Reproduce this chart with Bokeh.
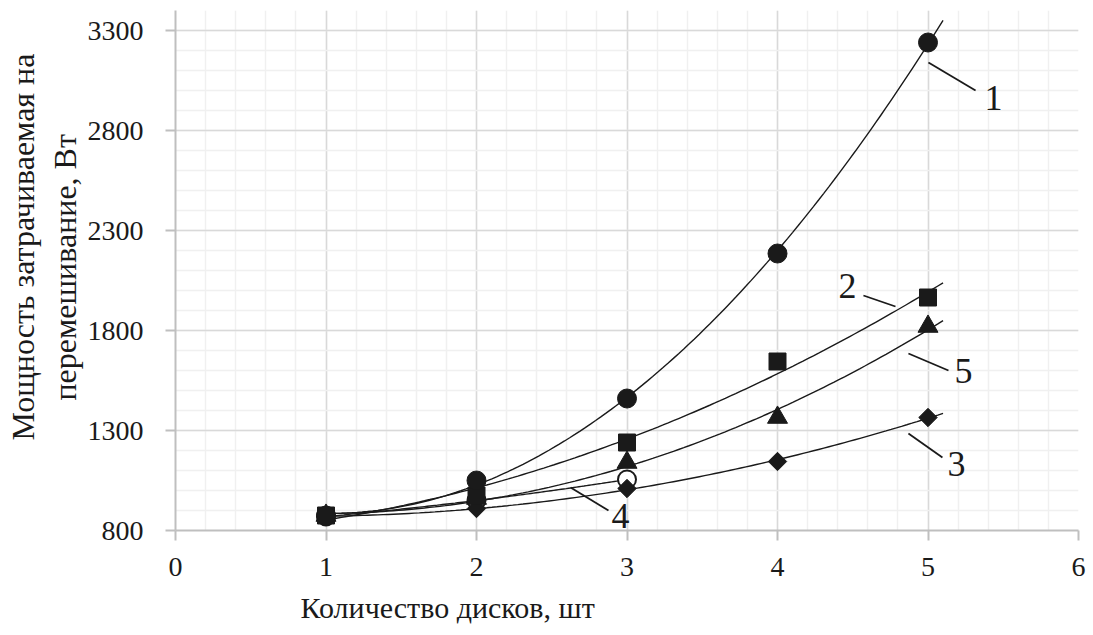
import numpy as np
from bokeh.plotting import figure
from bokeh.models import FixedTicker, Range1d, Title
from bokeh.embed import file_html
from bokeh.resources import INLINE
from bokeh.core.properties import value

# ---- data ----
disks = [1, 2, 3, 4, 5]
s1 = [875, 1050, 1460, 2185, 3240]   # circles
s2 = [875, 975, 1240, 1645, 1965]    # squares
s3 = [870, 910, 1010, 1145, 1365]    # diamonds
s5 = [875, 960, 1140, 1365, 1820]    # triangles
disks4 = [1, 2, 3]
s4 = [870, 950, 1055]                # open circles

x_ticks = [0, 1, 2, 3, 4, 5, 6]
y_ticks = [800, 1300, 1800, 2300, 2800, 3300]

label_text = ["1", "2", "3", "4", "5"]
label_x = [5.435, 4.465, 5.189, 2.957, 5.236]
label_y = [2965, 2025, 1135, 875, 1600]
leader_x0 = [5.003, 4.571, 4.870, 2.625, 4.870]
leader_y0 = [3140, 1975, 1285, 1015, 1685]
leader_x1 = [5.316, 4.784, 5.096, 2.877, 5.136]
leader_y1 = [3000, 1920, 1165, 900, 1600]

x_title = "Количество дисков, шт"
y_title1 = "Мощность затрачиваемая на"
y_title2 = "перемешивание, Вт"

FONT = "Liberation Serif"
INK = "#1a1a1a"

p = figure(width=1088, height=635, x_range=Range1d(0, 6), y_range=Range1d(800, 3400),
           output_backend="svg", toolbar_location=None,
           min_border_left=175, min_border_right=10, min_border_top=10, min_border_bottom=105)
p.outline_line_color = None

x_minor = [x_ticks[0] + i * 0.2 for i in range(int((x_ticks[-1] - x_ticks[0]) / 0.2) + 1)]
y_minor = list(range(y_ticks[0], 3401, 100))
p.xaxis.ticker = FixedTicker(ticks=x_ticks, minor_ticks=x_minor)
p.yaxis.ticker = FixedTicker(ticks=y_ticks, minor_ticks=y_minor)

p.grid.grid_line_color = "#d9d9d9"
p.grid.grid_line_width = 1.5
p.grid.minor_grid_line_color = "#f0f0f0"
p.grid.minor_grid_line_width = 1.5

p.axis.axis_line_color = "#bfbfbf"
p.axis.axis_line_width = 2
p.axis.major_tick_line_color = "#bfbfbf"
p.axis.major_tick_line_width = 2
p.axis.major_tick_out = 10
p.axis.major_tick_in = 0
p.axis.minor_tick_line_color = None
p.axis.major_label_text_font = FONT
p.axis.major_label_text_font_size = "28px"
p.axis.major_label_text_color = INK
p.xaxis.major_label_standoff = 17
p.yaxis.major_label_standoff = 22

# trendlines (2nd-order polynomial fits of the data)
def trend(xs, ys, xmax):
    c = np.polyfit(xs, ys, 2)
    xx = np.linspace(xs[0], xmax, 120)
    return xx, np.polyval(c, xx)

for xs, ys, xm in [(disks, s1, 5.1), (disks, s2, 5.1), (disks, s5, 5.1),
                   (disks, s3, 5.1), (disks4, s4, 3.0)]:
    xx, yy = trend(xs, ys, xm)
    p.line(xx, yy, line_color=INK, line_width=1.4)

# markers
p.scatter(disks4, s4, marker="circle", size=18, fill_color="white", line_color=INK, line_width=2)
p.scatter(disks, s3, marker="square", angle=np.pi / 4, size=13, fill_color=INK, line_color=INK)
p.scatter(disks, s5, marker="triangle", size=20, fill_color=INK, line_color=INK)
p.scatter(disks, s2, marker="square", size=17, fill_color=INK, line_color=INK)
p.scatter(disks, s1, marker="circle", size=19, fill_color=INK, line_color=INK)

# curve labels with leaders
p.segment(x0=leader_x0, y0=leader_y0, x1=leader_x1, y1=leader_y1, line_color=INK, line_width=1.8)
p.text(x=label_x, y=label_y, text=label_text, text_font=value(FONT), text_font_size="36px",
       text_align="center", text_baseline="middle", text_color=INK)

# axis titles
p.add_layout(Title(text=x_title, align="left", offset=125, standoff=20,
                   text_font=FONT, text_font_size="30px", text_font_style="normal",
                   text_color=INK), "below")
p.add_layout(Title(text=y_title2, align="left", offset=130, standoff=4,
                   text_font=FONT, text_font_size="32px", text_font_style="normal",
                   text_color=INK), "left")
p.add_layout(Title(text=y_title1, align="left", offset=90, standoff=4,
                   text_font=FONT, text_font_size="32px", text_font_style="normal",
                   text_color=INK), "left")

open("out.html", "w").write(file_html(p, INLINE))
